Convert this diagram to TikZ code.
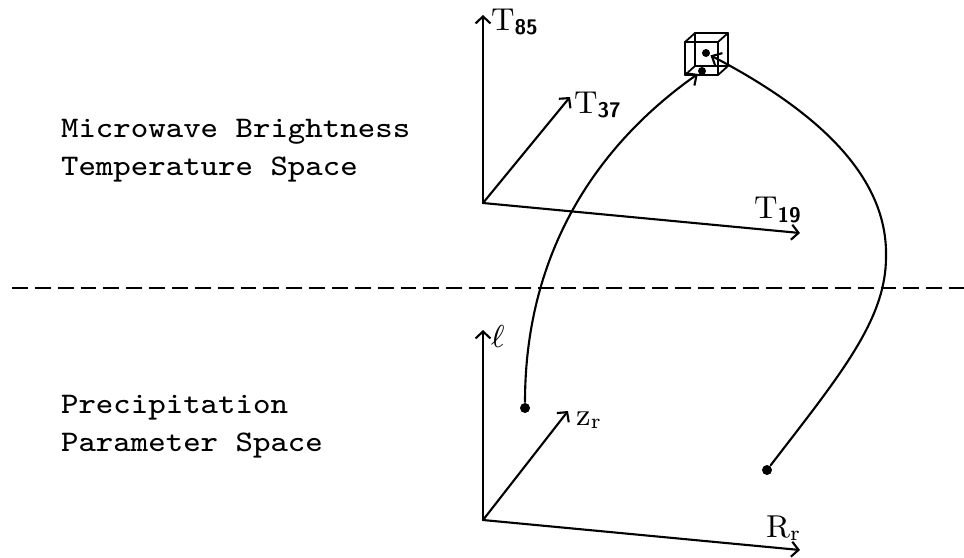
\documentclass[tikz,border=0pt]{standalone}
\usepackage{amsmath}
\usepackage{fontspec}
\setmonofont{Latin Modern Mono}[FakeStretch=1.1]
\usetikzlibrary{arrows.meta}
\tikzset{
    space/diagram/.style={
        x=0.01cm, y=-0.01cm,
        line width=0.6pt,
        line cap=round,
        line join=round
    },
    space/axis/.style={line width=0.6pt, -{Straight Barb[length=0.7mm, width=1.5mm]}},
    space/map/.style={line width=0.6pt, -{Straight Barb[length=0.8mm, width=1.5mm]}},
    space/divider/.style={line width=0.75pt, line cap=butt, dash pattern=on 4.5pt off 2pt},
    space/cube/.style={line width=0.5pt},
    space/point/.style={circle, fill=black, draw=none, inner sep=0pt, minimum size=0.1cm},
    space/cubepoint/.style={space/point, minimum size=0.08cm},
    space/label/.style={anchor=base west, inner sep=0pt, font=\rmfamily\fontsize{9}{10}\selectfont},
    space/caption/.style={anchor=base west, inner sep=0pt, align=left,
        font=\ttfamily\fontsize{8.5}{10.8}\selectfont}
}
\begin{document}
\begin{tikzpicture}[space/diagram]
    \useasboundingbox (0,0) rectangle (964,557);
    % brightness temperature axes
    \coordinate (To) at (483,203);
    \coordinate (T85) at (483,15);
    \coordinate (T37) at (570,97);
    \coordinate (T19) at (800,233);
    \draw[space/axis] (To) -- (T85);
    \draw[space/axis] (To) -- (T37);
    \draw[space/axis] (To) -- (T19);
    \node[space/label] (l85) at (490,30) {T$_{\textsf{\textbf{85}}}$};
    \node[space/label] (l37) at (573,113) {T$_{\textsf{\textbf{37}}}$};
    \node[space/label] (l19) at (753,218) {T$_{\textsf{\textbf{19}}}$};
    % precipitation parameter axes
    \coordinate (Po) at (483,520);
    \coordinate (Pl) at (483,330);
    \coordinate (Pz) at (568,411);
    \coordinate (PR) at (800,550);
    \draw[space/axis] (Po) -- (Pl);
    \draw[space/axis] (Po) -- (Pz);
    \draw[space/axis] (Po) -- (PR);
    \node[space/label] (ll) at (490,347) {$\ell$};
    \node[space/label] (lz) at (575,425) {$\mathrm{z}_{\mathrm{r}}$};
    \node[space/label] (lR) at (765,537) {$\mathrm{R}_{\mathrm{r}}$};
    % boundary between the two spaces
    \draw[space/divider] (12,288) -- (964,288);
    % base anchor sits on the last line here
    \node[space/caption] (upper) at (60,175) {Microwave Brightness\\Temperature Space};
    \node[space/caption] (lower) at (60,451) {Precipitation\\Parameter Space};
    % cell in temperature space
    \draw[space/cube] (685,42) rectangle (718,75) (695,33) rectangle (728,66);
    \foreach \cx/\cy in {685/42, 718/42, 718/75, 685/75}
        \draw[space/cube] (\cx,\cy) -- ++(10,-9);
    \node[space/cubepoint] (qA) at (702,71) {};
    \node[space/cubepoint] (qB) at (706,53) {};
    % parameter points and their images
    \node[space/point] (pA) at (525,408) {};
    \node[space/point] (pB) at (767,470) {};
    \coordinate (bend) at (886,257);
    \draw[space/map] (pA) .. controls (525,260) and (590,150) .. (qA);
    \draw[space/map] (pB) .. controls (840,375) and (886,320) .. (bend)
        .. controls (888,175) and (815,110) .. (qB);
\end{tikzpicture}
\end{document}
